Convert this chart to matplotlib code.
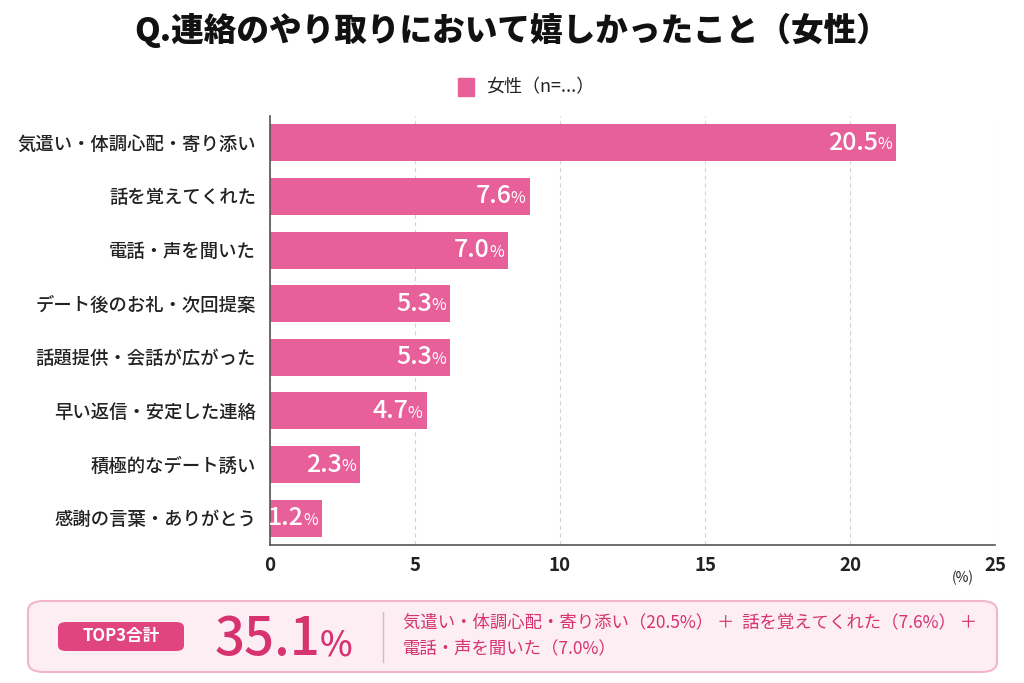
import matplotlib.pyplot as plt
from matplotlib.patches import FancyBboxPatch, Rectangle
from matplotlib.lines import Line2D

plt.rcParams['font.family'] = ['Noto Sans CJK JP', 'DejaVu Sans']

# data
categories = ['気遣い・体調心配・寄り添い', '話を覚えてくれた', '電話・声を聞いた',
              'デート後のお礼・次回提案', '話題提供・会話が広がった',
              '早い返信・安定した連絡', '積極的なデート誘い', '感謝の言葉・ありがとう']
values = [20.5, 7.6, 7.0, 5.3, 5.3, 4.7, 2.3, 1.2]
# bar lengths as drawn on the axis in the picture (they overshoot the labels)
bar_len = [21.6, 8.95, 8.2, 6.2, 6.2, 5.4, 3.1, 1.8]
xticks = [0, 5, 10, 15, 20, 25]
top3_total = 35.1
top3_text = ['気遣い・体調心配・寄り添い（20.5%） ＋  話を覚えてくれた（7.6%） ＋',
             '電話・声を聞いた（7.0%）']

PINK = '#E8609A'
DARK_PINK = '#D6336F'
W, H = 1024, 683

def fx(x):
    return x / W

def fy(y):
    return 1 - y / H

fig = plt.figure(figsize=(10.24, 6.83), dpi=100)
ax = fig.add_axes([fx(270), fy(545), fx(995) - fx(270), fy(116) - fy(545)])

ypos = list(range(len(categories)))
ax.barh(ypos, bar_len, height=0.69, color=PINK, zorder=3)
ax.set_ylim(len(categories) - 0.5, -0.5)
ax.set_xlim(0, 25)
ax.set_yticks(ypos)
ax.set_yticklabels(categories, fontsize=13.2, fontweight='medium', color='#222222')
ax.set_xticks(xticks)
ax.set_xticklabels([str(t) for t in xticks], fontsize=13.5, fontweight='bold', color='#222222')
ax.tick_params(axis='both', length=0)
ax.tick_params(axis='y', pad=10)
ax.tick_params(axis='x', pad=8)
ax.grid(axis='x', color='#d4d4d4', linestyle=(0, (4, 3)), linewidth=0.8, zorder=0)
for s in ['top', 'right']:
    ax.spines[s].set_visible(False)
for s in ['left', 'bottom']:
    ax.spines[s].set_color('#555555')
    ax.spines[s].set_linewidth(1.2)
    ax.spines[s].set_zorder(4)

for i, (b, v) in enumerate(zip(bar_len, values)):
    ax.annotate('%', xy=(b, i), xytext=(-3, -1.5), textcoords='offset points',
                ha='right', va='center', color='white', fontsize=11.5, zorder=5)
    ax.annotate(f'{v:.1f}', xy=(b, i), xytext=(-13, 0), textcoords='offset points',
                ha='right', va='center', color='white', fontsize=18,
                fontweight='medium', zorder=5)

fig.text(fx(963), fy(578), '(%)', fontsize=10, ha='center', va='center', color='#222222')

# title and legend
fig.text(0.5, fy(30), 'Q.連絡のやり取りにおいて嬉しかったこと（女性）', ha='center', va='center',
         fontsize=23.5, fontweight='heavy', color='#111111')
fig.patches.append(Rectangle((fx(458), fy(96)), fx(16), fy(78) - fy(96),
                             transform=fig.transFigure, color=PINK))
fig.text(fx(486), fy(87), '女性（n=...）', ha='left', va='center', fontsize=13, color='#222222')

# summary box
fig.patches.append(FancyBboxPatch((fx(28), fy(672)), fx(969), fy(601) - fy(672),
                                  boxstyle='round,pad=0,rounding_size=0.015',
                                  transform=fig.transFigure, facecolor='#FDEEF4',
                                  edgecolor='#F2B6CC', linewidth=1.5))
fig.patches.append(FancyBboxPatch((fx(58), fy(651)), fx(126), fy(622) - fy(651),
                                  boxstyle='round,pad=0,rounding_size=0.008',
                                  transform=fig.transFigure, facecolor='#E0457F',
                                  edgecolor='none'))
fig.text(fx(121), fy(636), 'TOP3合計', ha='center', va='center', fontsize=12,
         color='white', fontweight='bold')
fig.text(fx(320), fy(640), f'{top3_total:.1f}', ha='right', va='center', fontsize=38,
         color=DARK_PINK, fontweight='medium')
fig.text(fx(320), fy(645), '%', ha='left', va='center', fontsize=25,
         color=DARK_PINK, fontweight='medium')
fig.lines.append(Line2D([fx(383), fx(383)], [fy(612), fy(662)], transform=fig.transFigure,
                        color='#E3B3C6', linewidth=1))
fig.text(fx(403), fy(622), top3_text[0], ha='left', va='center', fontsize=12.5, color=DARK_PINK)
fig.text(fx(403), fy(648), top3_text[1], ha='left', va='center', fontsize=12.5, color=DARK_PINK)

fig.savefig('out.png', dpi=100)
